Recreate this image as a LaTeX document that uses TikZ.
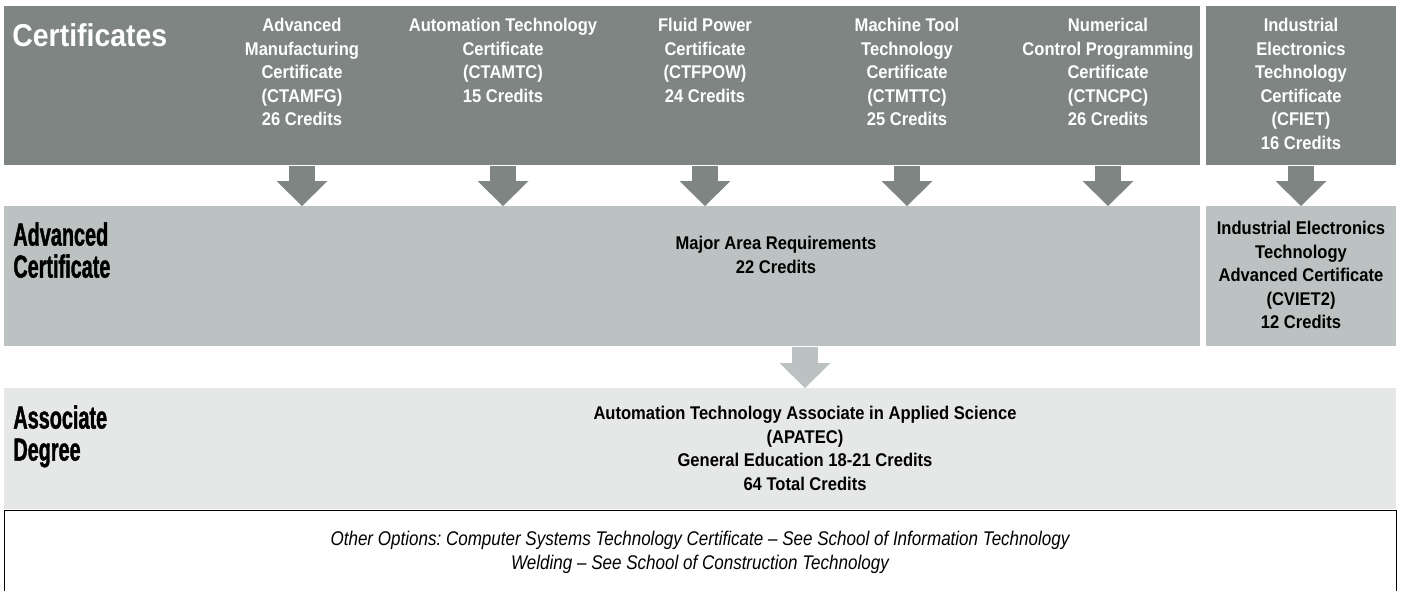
\documentclass[tikz,border=0pt]{standalone}
\usepackage{fontspec}
\setmainfont{Liberation Sans}
\newfontfamily\narrowfont[FakeStretch=0.9]{Liberation Sans}
\newfontfamily\slimfont[FakeStretch=0.86]{Liberation Sans}
\newfontfamily\headfont[FakeStretch=0.62, FakeBold=1.2]{Liberation Sans}
\usetikzlibrary{positioning, arrows.meta}
\definecolor{darkband}{RGB}{127,133,131}
\definecolor{midband}{RGB}{188,193,193}
\definecolor{lightband}{RGB}{230,232,231}
\frenchspacing
\tikzset{
  band/.style={rectangle, anchor=north west, inner sep=0pt},
  certtext/.style={anchor=north, inner sep=0pt, align=center, font=\narrowfont\bfseries\fontsize{9.2}{11.75}\selectfont},
  rowlabel/.style={anchor=north west, inner sep=0pt, align=left, font=\headfont\bfseries\fontsize{16}{16}\selectfont},
  fatarrow/.style={#1, line width=13pt, -{Triangle[width=25.5pt, length=12.5pt, line width=0pt]}},
}

\begin{document}
\begin{tikzpicture}[x=0.5pt, y=-0.5pt]
  \useasboundingbox (0,0) rectangle (1403,590);
  \clip (0,0) rectangle (1403,590);

  % Bands
  \node[band, fill=darkband, minimum width=598pt, minimum height=79.5pt] (certs) at (4,6) {};
  \node[band, fill=darkband, minimum width=95pt, minimum height=79.5pt] (certsR) at (1206,6) {};
  \node[band, fill=midband, minimum width=598pt, minimum height=70pt] (adv) at (4,206) {};
  \node[band, fill=midband, minimum width=95pt, minimum height=70pt] (advR) at (1206,206) {};
  \node[band, fill=lightband, minimum width=696pt, minimum height=60.5pt] (assoc) at (4,388) {};
  \node[band, draw, line width=0.7pt, minimum width=696pt, minimum height=70pt] (other) at (4,510) {};

  % Row labels
  \node[anchor=north west, inner sep=0pt, text=white, font=\narrowfont\bfseries\fontsize{15.8}{18}\selectfont] (certlabel) at (12,23) {Certificates};
  \node[rowlabel] (advlabel) at (13,222) {Advanced\\Certificate};
  \node[rowlabel] (assoclabel) at (13,405) {Associate\\Degree};

  % Certificates
  \node[certtext, text=white] (amfg) at (302,18) {Advanced\\Manufacturing\\Certificate\\(CTAMFG)\\26 Credits};
  \node[certtext, text=white] (amtc) at (503,18) {Automation Technology\\Certificate\\(CTAMTC)\\15 Credits};
  \node[certtext, text=white] (fpow) at (705,18) {Fluid Power\\Certificate\\(CTFPOW)\\24 Credits};
  \node[certtext, text=white] (mttc) at (907,18) {Machine Tool\\Technology\\Certificate\\(CTMTTC)\\25 Credits};
  \node[certtext, text=white] (ncpc) at (1108,18) {Numerical\\Control Programming\\Certificate\\(CTNCPC)\\26 Credits};
  \node[certtext, text=white] (fiet) at (1301,18) {Industrial\\Electronics\\Technology\\Certificate\\(CFIET)\\16 Credits};

  % Advanced certificates
  \node[certtext] (major) at (776,236) {Major Area Requirements\\22 Credits};
  \node[certtext] (viet) at (1301,221) {Industrial Electronics\\Technology\\Advanced Certificate\\(CVIET2)\\12 Credits};

  % Degree
  \node[certtext] (apatec) at (805,406) {Automation Technology Associate in Applied Science\\(APATEC)\\General Education 18-21 Credits\\64 Total Credits};
  \node[certtext, font=\slimfont\itshape\fontsize{9.9}{11.75}\selectfont] (options) at (700,531) {Other Options: Computer Systems Technology Certificate – See School of Information Technology\\Welding – See School of Construction Technology};

  % Arrows
  \foreach \c in {amfg, amtc, fpow, mttc, ncpc}
    \draw[fatarrow=darkband] (\c |- certs.south) -- (\c |- adv.north);
  \draw[fatarrow=darkband] (fiet |- certsR.south) -- (fiet |- advR.north);
  \draw[fatarrow=midband] (apatec |- adv.south) -- (apatec |- assoc.north);

\end{tikzpicture}
\end{document}
